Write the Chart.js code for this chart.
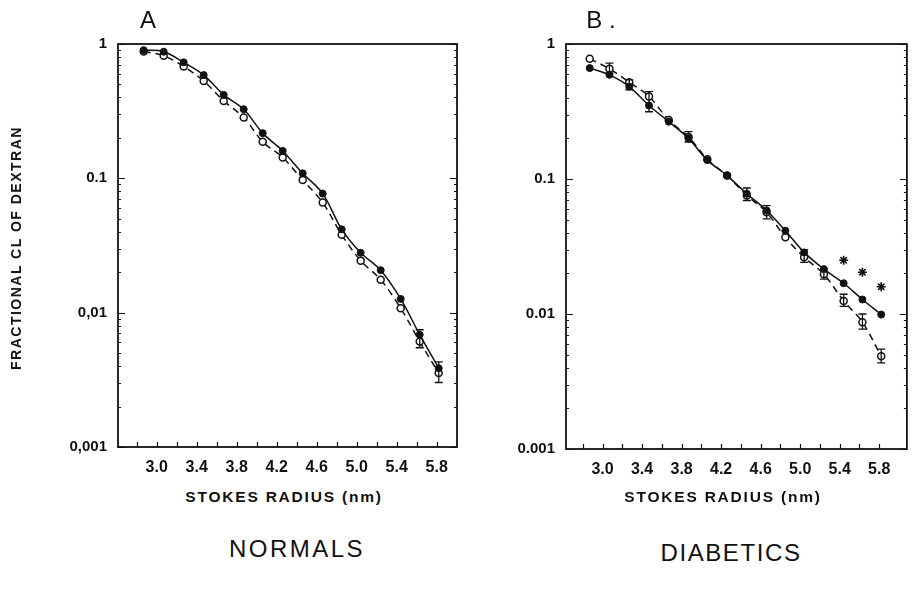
<!DOCTYPE html>
<html><head><meta charset="utf-8">
<script src="https://cdn.jsdelivr.net/npm/chart.js@4/dist/chart.umd.min.js"></script>
<style>
body{margin:0;background:#fff;width:913px;height:592px;position:relative;overflow:hidden;font-family:"Liberation Sans",Arial,sans-serif;color:#111;}
canvas{position:absolute;top:0;}
.t{position:absolute;white-space:nowrap;transform:translate(-50%,-50%);color:#111;}
</style></head><body>
<canvas id="ca" width="470" height="480" style="left:0"></canvas>
<canvas id="cb" width="463" height="480" style="left:450px"></canvas>
<div class="t" style="left:148px;top:20px;font-size:24px;">A</div>
<div class="t" style="left:601px;top:20px;font-size:24px;">B .</div>
<div class="t" style="left:16px;top:248px;font-size:14px;font-weight:bold;letter-spacing:1.5px;transform:translate(-50%,-50%) rotate(-90deg);">FRACTIONAL CL OF DEXTRAN</div>
<div class="t" style="left:284px;top:497px;font-size:15.5px;font-weight:bold;letter-spacing:1.8px;">STOKES RADIUS (nm)</div>
<div class="t" style="left:723px;top:497px;font-size:15.5px;font-weight:bold;letter-spacing:1.8px;">STOKES RADIUS (nm)</div>
<div class="t" style="left:297px;top:549px;font-size:24px;letter-spacing:2.5px;">NORMALS</div>
<div class="t" style="left:731px;top:553px;font-size:24px;letter-spacing:1.6px;">DIABETICS</div>
<script>
// ---- data ----
const radius = [2.87,3.07,3.27,3.47,3.67,3.87,4.06,4.26,4.46,4.66,4.85,5.04,5.24,5.44,5.63,5.82];

const normalsFilled = [0.90,0.876,0.73,0.587,0.418,0.327,0.217,0.16,0.109,0.077,0.0417,0.0279,0.0207,0.01265,0.00686,0.00386];
const normalsOpen   = [0.88,0.818,0.68,0.53,0.377,0.284,0.187,0.143,0.097,0.066,0.038,0.0244,0.0176,0.01077,0.0061,0.00355];
const normalsErrLow  = [null,null,null,null,null,null,null,null,null,null,null,null,null,null,0.00548,0.00302];
const normalsErrHigh = [null,null,null,null,null,null,null,null,null,null,null,null,null,null,0.00746,0.0043];

const diabeticsFilled = [0.663,0.591,0.484,0.35,0.266,0.2,0.138,0.106,0.0778,0.0584,0.0414,0.0286,0.0215,0.0169,0.0128,0.0099];
const diabeticsOpen   = [0.777,0.655,0.521,0.408,0.273,0.205,0.14,0.106,0.0755,0.0566,0.037,0.0263,0.0197,0.0125,0.0087,0.00486];
const diabeticsErrLow  = [null,0.608,0.457,0.315,null,0.188,null,null,0.0693,0.0507,null,0.0241,0.0181,0.0114,0.00772,0.00435];
const diabeticsErrHigh = [null,0.722,0.542,0.444,null,0.224,null,null,0.0858,0.0636,null,0.0300,0.0215,0.0140,0.0100,0.0055];

const sigRadius = [5.44,5.63,5.82];
const sigMarks  = [0.025,0.0204,0.0159];

const xTickValues = [3.0,3.4,3.8,4.2,4.6,5.0,5.4,5.8];
const xTickLabels = ['3.0','3.4','3.8','4.2','4.6','5.0','5.4','5.8'];
const xMinorTicks = [2.8,3.0,3.2,3.4,3.6,3.8,4.0,4.2,4.4,4.6,4.8,5.0,5.2,5.4,5.6,5.8];
const yTickValues = [1,0.1,0.01,0.001];
const yTickLabelsA = ['1','0.1','0,01','0,001'];
const yTickLabelsB = ['1','0.1','0.01','0.001'];

// ---- helpers ----
const INK = '#111';
const FONT = '"Liberation Sans", Arial, sans-serif';
const pts = (xs, ys) => xs.map((x,i)=>({x, y: ys[i]}));

const framePlugin = {
  id: 'frame',
  afterDatasetsDraw(chart, args, o) {
    const {ctx, scales:{x, y}} = chart;
    ctx.save();
    ctx.strokeStyle = INK; ctx.lineWidth = 1.3;
    (o.errors || []).forEach(e => {
      e.xs.forEach((xv, i) => {
        if (e.lo[i] == null) return;
        const px = x.getPixelForValue(xv);
        const p1 = y.getPixelForValue(e.lo[i]);
        const p2 = y.getPixelForValue(e.hi[i]);
        ctx.beginPath();
        ctx.moveTo(px, p1); ctx.lineTo(px, p2);
        ctx.moveTo(px-4, p1); ctx.lineTo(px+4, p1);
        ctx.moveTo(px-4, p2); ctx.lineTo(px+4, p2);
        ctx.stroke();
      });
    });
    ctx.restore();
  },
  afterDraw(chart, args, o) {
    const {ctx, chartArea:a, scales:{x, y}} = chart;
    ctx.save();
    ctx.strokeStyle = INK;
    ctx.lineWidth = 1.2;
    ctx.beginPath();
    xMinorTicks.forEach(v => {
      const px = Math.round(x.getPixelForValue(v)) + 0.5;
      ctx.moveTo(px, a.bottom); ctx.lineTo(px, a.bottom - 5);
    });
    for (let e = -3; e <= 0; e++) {
      for (let m = 1; m <= 9; m++) {
        const v = m * Math.pow(10, e);
        if (v > 1.0001) break;
        const py = Math.round(y.getPixelForValue(v)) + 0.5;
        const len = m === 1 ? 7 : 3;
        ctx.moveTo(a.left, py); ctx.lineTo(a.left + len, py);
        ctx.moveTo(a.right, py); ctx.lineTo(a.right - len, py);
      }
    }
    ctx.stroke();
    ctx.lineWidth = 1.8;
    ctx.strokeRect(a.left, a.top, a.right - a.left, a.bottom - a.top);
    ctx.restore();
  }
};

function makePanel(id, cfg) {
  const datasets = [
    { data: pts(radius, cfg.open), borderColor: INK, borderWidth: 1.5, borderDash: [7,5],
      pointRadius: 3.5, pointBackgroundColor: '#fff', pointBorderColor: INK, pointBorderWidth: 1.5,
      tension: 0.35, showLine: true, order: 2 },
    { data: pts(radius, cfg.filled), borderColor: INK, borderWidth: 1.5,
      pointRadius: 3.5, pointBackgroundColor: INK, pointBorderColor: INK, pointBorderWidth: 1,
      tension: 0.35, showLine: true, order: 1 }
  ];
  if (cfg.sig) datasets.push({ data: pts(cfg.sig.xs, cfg.sig.ys), showLine: false, pointStyle: 'star',
      pointRadius: 4.5, pointBorderColor: INK, pointBorderWidth: 1.6, order: 0 });
  return new Chart(document.getElementById(id), {
    type: 'scatter',
    data: { datasets },
    plugins: [framePlugin],
    options: {
      responsive: false, animation: false, events: [],
      layout: { padding: { top: 44, right: cfg.padRight, left: 0, bottom: 0 } },
      plugins: { legend: { display: false }, tooltip: { enabled: false },
        frame: { errors: cfg.errors } },
      scales: {
        x: { type: 'linear', min: cfg.xmin, max: cfg.xmax,
          grid: { display: false, drawTicks: false }, border: { display: false },
          afterBuildTicks: s => { s.ticks = xTickValues.map(v => ({ value: v })); },
          ticks: { callback: (v, i) => xTickLabels[i], autoSkip: false, maxRotation: 0,
            font: { family: FONT, size: 16, weight: 'bold' }, color: INK, padding: 11 },
          afterFit: s => { s.height = cfg.xh; } },
        y: { type: 'logarithmic', min: 0.001, max: 1,
          grid: { display: false, drawTicks: false }, border: { display: false },
          afterBuildTicks: s => { s.ticks = yTickValues.map(v => ({ value: v })); },
          ticks: { callback: (v, i) => cfg.ylabels[i], autoSkip: false,
            font: { family: FONT, size: 15, weight: 'bold' }, color: INK, padding: 11 },
          afterFit: s => { s.width = cfg.yw; } }
      }
    }
  });
}

makePanel('ca', { filled: normalsFilled, open: normalsOpen, xmin: 2.613, xmax: 6.003,
  yw: 118, xh: 33, padRight: 13, ylabels: yTickLabelsA,
  errors: [{ xs: radius, lo: normalsErrLow, hi: normalsErrHigh }] });
makePanel('cb', { filled: diabeticsFilled, open: diabeticsOpen, xmin: 2.63, xmax: 6.08,
  yw: 116, xh: 31, padRight: 2, ylabels: yTickLabelsB,
  sig: { xs: sigRadius, ys: sigMarks },
  errors: [{ xs: radius, lo: diabeticsErrLow, hi: diabeticsErrHigh }] });
</script>
</body></html>
